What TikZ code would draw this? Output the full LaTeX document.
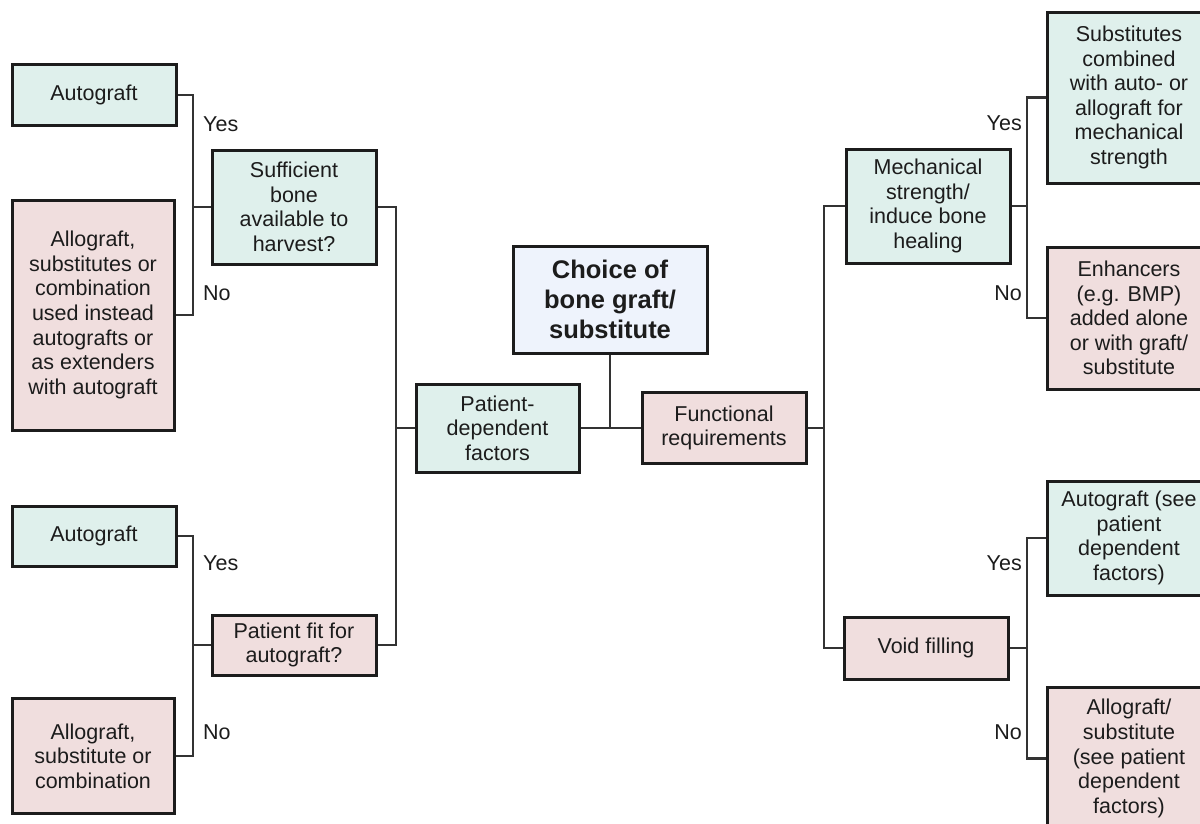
\documentclass[tikz,border=0pt]{standalone}
\usepackage{fontspec}
\setmainfont{Liberation Sans}
\usetikzlibrary{positioning,calc}
\definecolor{mint}{HTML}{DFF0EC}
\definecolor{blush}{HTML}{F0DEDE}
\definecolor{ice}{HTML}{EEF3FC}
\definecolor{ink}{HTML}{1C1C1C}

\begin{document}
\begin{tikzpicture}[x=1pt,y=-1pt,
  box/.style={draw=ink, line width=3pt, align=center, inner sep=0pt, text=ink,
    minimum width=164pt, font=\fontsize{21.5}{24.6}\selectfont},
  yesbox/.style={box, fill=mint},
  nobox/.style={box, fill=blush},
  link/.style={draw=ink!90, line width=2.8pt},
  answer/.style={inner sep=0pt, text=ink, font=\fontsize{21.5}{24.6}\selectfont}]
\useasboundingbox (0,0) rectangle (1200,823);
\fill[white] (0,0) rectangle (1200,823);
\clip (0,0) rectangle (1200,823);

% centre
\node[box, fill=ice, minimum width=194pt, minimum height=107pt,
  font=\bfseries\fontsize{25.5}{30}\selectfont] (choice) at (610,299.5)
  {Choice of\\bone graft/\\substitute};
\node[yesbox, minimum width=163pt, minimum height=88pt] (patdep) at (497.5,428)
  {Patient-\\dependent\\factors};
\node[nobox, minimum height=71pt] (func) at (724,428) {Functional\\requirements};

% patient side
\node[yesbox, minimum height=114pt] (suff) at (294,207) {Sufficient\\bone\\available to\\harvest?};
\node[nobox, minimum height=60pt] (fit) at (294,645) {Patient fit for\\autograft?};
\node[yesbox, minimum height=61pt] (auto1) at (94,95) {Autograft};
\node[nobox, minimum width=162pt, minimum height=230pt] (allo1) at (93,315)
  {Allograft,\\substitutes or\\combination\\used instead\\autografts or\\as extenders\\with autograft};
\node[yesbox, minimum height=60pt] (auto2) at (94,536) {Autograft};
\node[nobox, minimum width=162pt, minimum height=115pt] (allo2) at (93,756)
  {Allograft,\\substitute or\\combination};

% functional side
\node[yesbox, minimum height=114pt] (mech) at (928,206) {Mechanical\\strength/\\induce bone\\healing};
\node[nobox, minimum height=62pt] (void) at (926,648) {Void filling};
\node[yesbox, minimum height=171pt] (subs) at (1129,97.5)
  {Substitutes\\combined\\with auto- or\\allograft for\\mechanical\\strength};
\node[nobox, minimum height=142pt] (enh) at (1129,318)
  {Enhancers\\(e.g. BMP)\\added alone\\or with graft/\\substitute};
\node[yesbox, minimum height=114pt] (auto3) at (1129,538)
  {Autograft (see\\patient\\dependent\\factors)};
\node[nobox, minimum height=143pt] (allo3) at (1129,758.5)
  {Allograft/\\substitute\\(see patient\\dependent\\factors)};

% trunks
\coordinate (t1) at (193,0);
\coordinate (t2) at (396,0);
\coordinate (t3) at (824,0);
\coordinate (t4) at (1027,0);

\draw[link] (auto1.east) -| (t1 |- allo1.east) -- (allo1.east);
\draw[link] (suff.west) -- (suff.west -| t1);
\draw[link] (auto2.east) -| (t1 |- allo2.east) -- (allo2.east);
\draw[link] (fit.west) -- (fit.west -| t1);
\draw[link] (suff.east) -| (t2 |- fit.east) -- (fit.east);
\draw[link] (patdep.west) -- (patdep.west -| t2);
\draw[link] (patdep.east) -- (func.west);
\draw[link] (choice.south) -- (choice.south |- func.west);
\draw[link] (mech.west) -| (t3 |- void.west) -- (void.west);
\draw[link] (func.east) -- (func.east -| t3);
\draw[link] (subs.west) -| (t4 |- enh.west) -- (enh.west);
\draw[link] (mech.east) -- (mech.east -| t4);
\draw[link] (auto3.west) -| (t4 |- allo3.west) -- (allo3.west);
\draw[link] (void.east) -- (void.east -| t4);

% yes / no
\node[answer, anchor=west] (yes1) at (203,124) {Yes};
\node[answer, anchor=west] (no1) at (203,293) {No};
\node[answer, anchor=west] (yes2) at (203,563) {Yes};
\node[answer, anchor=west] (no2) at (203,732) {No};
\node[answer, anchor=east] (yes3) at (1022,123) {Yes};
\node[answer, anchor=east] (no3) at (1022,293) {No};
\node[answer, anchor=east] (yes4) at (1022,563) {Yes};
\node[answer, anchor=east] (no4) at (1022,732) {No};
\end{tikzpicture}
\end{document}
